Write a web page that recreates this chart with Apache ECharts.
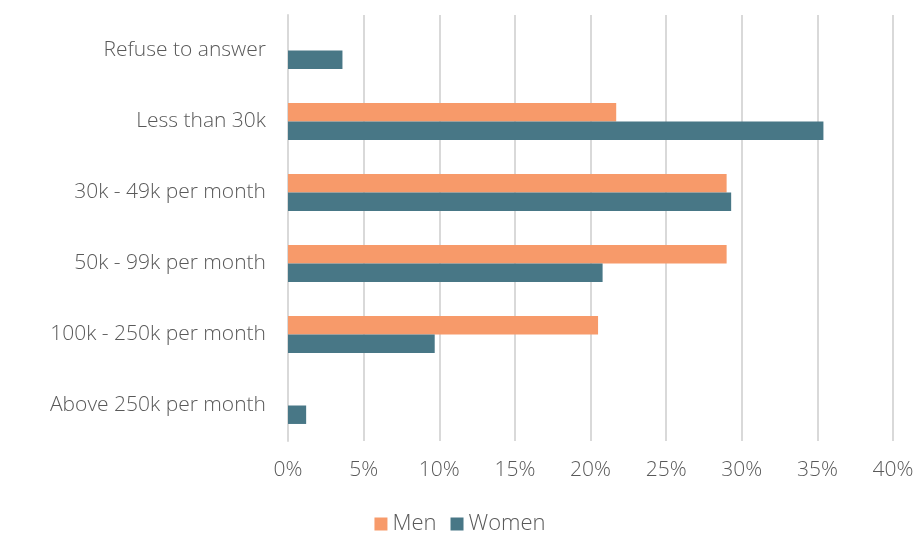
<!DOCTYPE html>
<html>
<head>
<meta charset="utf-8">
<script src="https://cdn.jsdelivr.net/npm/echarts@6/dist/echarts.min.js"></script>
<style>
  html, body { margin: 0; padding: 0; background: #fff; }
  #chart { width: 920px; height: 534px; }
</style>
</head>
<body>
<div id="chart"></div>
<script>
const categories = ['Refuse to answer', 'Less than 30k', '30k - 49k per month', '50k - 99k per month', '100k - 250k per month', 'Above 250k per month'];
const menValues = [0, 21.7, 29.0, 29.0, 20.5, 0];
const womenValues = [3.6, 35.4, 29.3, 20.8, 9.7, 1.2];

const chart = echarts.init(document.getElementById('chart'));
const font = 'Open Sans';
const textColor = '#595959';
const option = {
  animation: false,
  grid: { left: 288, right: 27, top: 15, bottom: 93 },
  legend: {
    data: ['Men', 'Women'],
    bottom: -6,
    left: 'center',
    itemWidth: 13,
    itemHeight: 13,
    itemGap: 14,
    icon: 'rect',
    textStyle: { color: textColor, fontSize: 22, fontFamily: font, fontWeight: 300, padding: [0, 0, 0, 0] }
  },
  xAxis: {
    type: 'value',
    min: 0,
    max: 40,
    interval: 5,
    axisLine: { show: false },
    axisTick: { show: false },
    splitLine: { lineStyle: { color: '#d9d9d9', width: 2 } },
    axisLabel: {
      formatter: '{value}%',
      color: textColor,
      fontSize: 21,
      fontFamily: font,
      fontWeight: 300,
      margin: 19
    }
  },
  yAxis: {
    type: 'category',
    data: categories,
    inverse: true,
    axisLine: { lineStyle: { color: '#d9d9d9', width: 2 } },
    axisTick: { show: false },
    axisLabel: {
      color: textColor,
      fontSize: 21,
      fontFamily: font,
      fontWeight: 300,
      margin: 22
    }
  },
  series: [
    {
      name: 'Men',
      type: 'bar',
      data: menValues,
      barGap: 0,
      barCategoryGap: '48%',
      itemStyle: { color: '#f79a6a' }
    },
    {
      name: 'Women',
      type: 'bar',
      data: womenValues,
      itemStyle: { color: '#487786' }
    }
  ]
};
chart.setOption(option);
</script>
</body>
</html>
